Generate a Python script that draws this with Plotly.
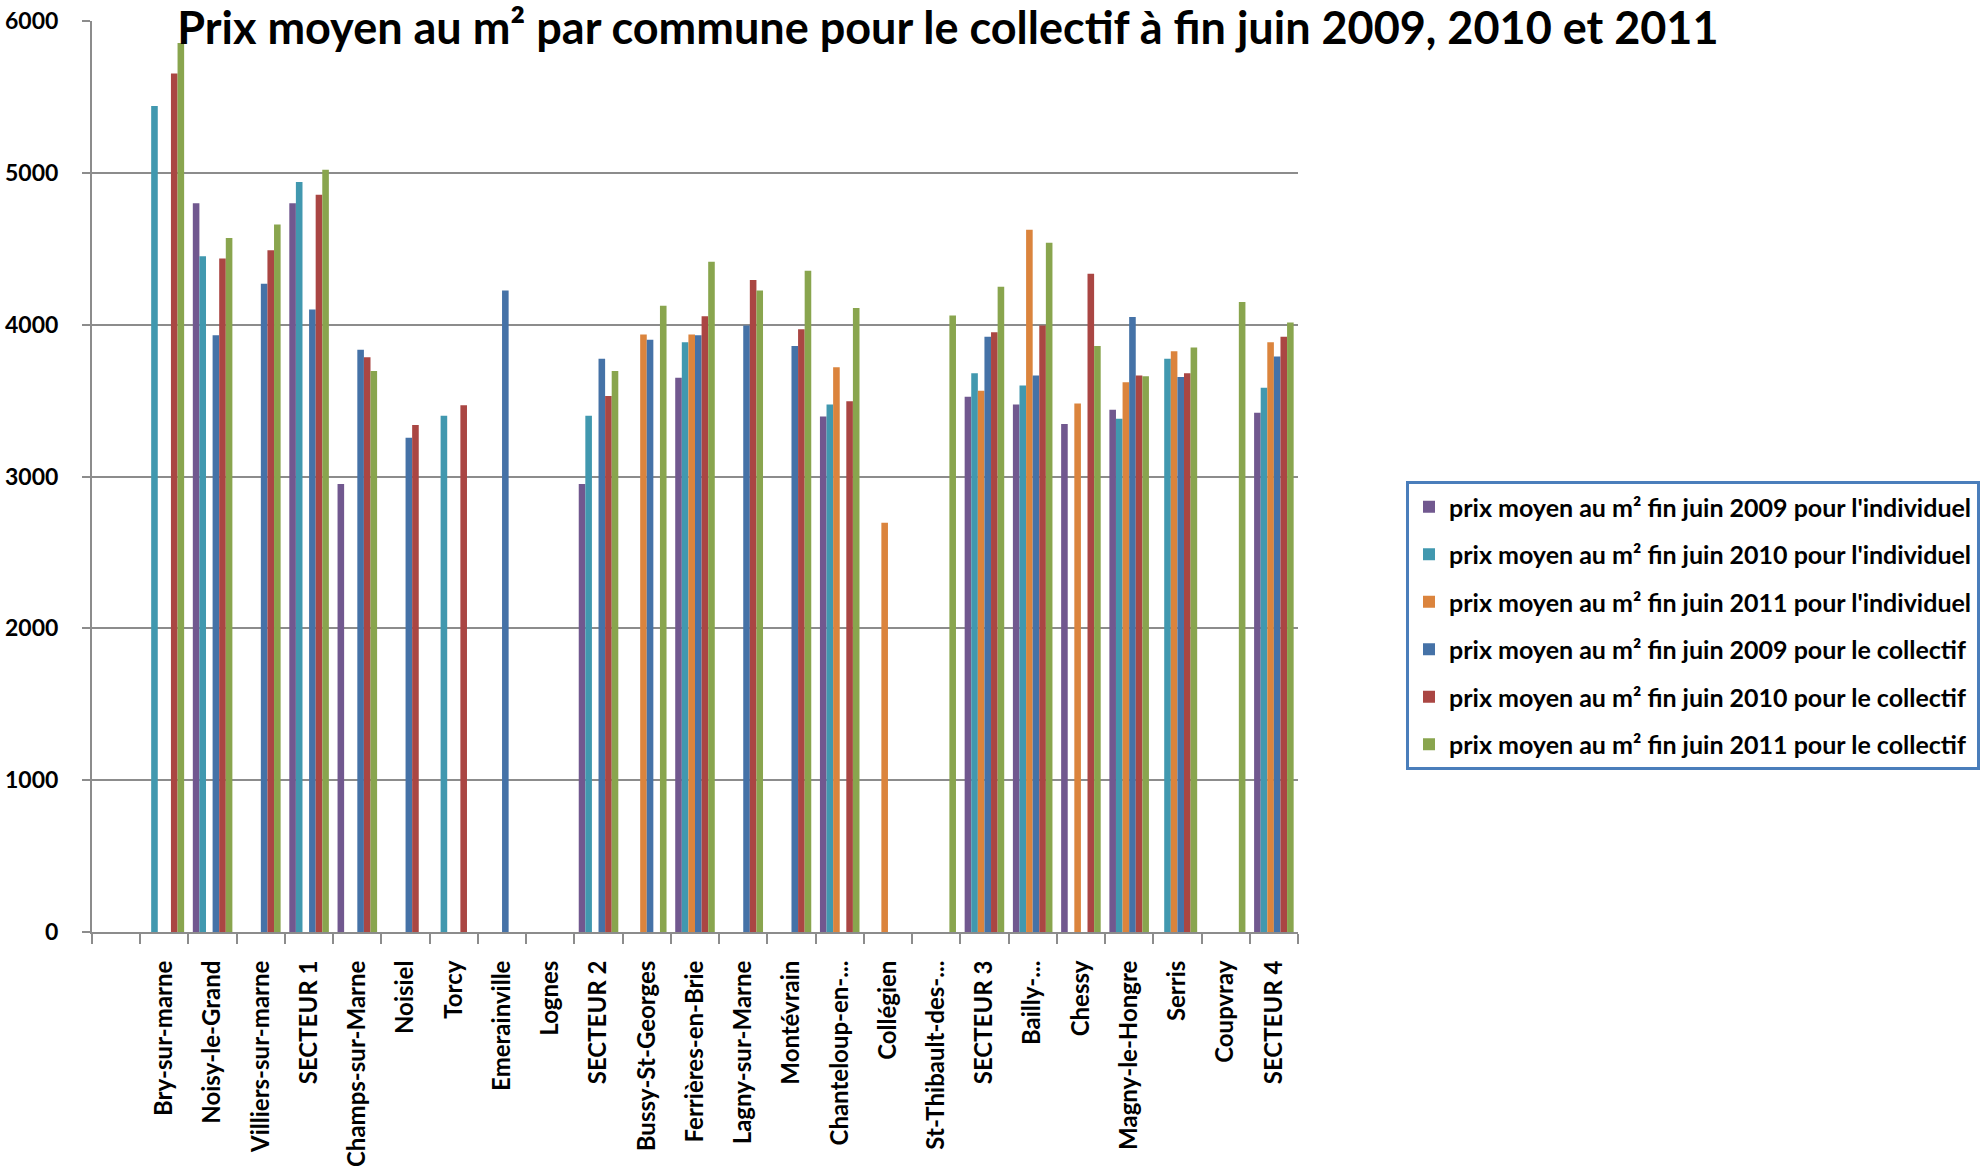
import plotly.graph_objects as go

# Communes (first slot of the axis is left empty)
communes = [
    " ", "Bry-sur-marne", "Noisy-le-Grand", "Villiers-sur-marne", "SECTEUR 1",
    "Champs-sur-Marne", "Noisiel", "Torcy", "Emerainville", "Lognes", "SECTEUR 2",
    "Bussy-St-Georges", "Ferrières-en-Brie", "Lagny-sur-Marne", "Montévrain",
    "Chanteloup-en-...", "Collégien", "St-Thibault-des-...", "SECTEUR 3",
    "Bailly-...", "Chessy", "Magny-le-Hongre", "Serris", "Coupvray", "SECTEUR 4",
]

# Average price per m² (None = no data)
indiv_2009 = [None, None, 4800, None, 4800, 2950, None, None, None, None, 2950,
              None, 3650, None, None, 3395, None, None, 3525, 3475, 3345, 3440,
              None, None, 3420]
indiv_2010 = [None, 5440, 4450, None, 4940, None, None, 3400, None, None, 3400,
              None, 3885, None, None, 3475, None, None, 3680, 3600, None, 3380,
              3775, None, 3585]
indiv_2011 = [None, None, None, None, None, None, None, None, None, None, None,
              3935, 3935, None, None, 3720, 2695, None, 3565, 4625, 3480, 3620,
              3825, None, 3885]
coll_2009 = [None, None, 3930, 4270, 4100, 3835, 3255, None, 4225, None, 3775,
             3900, 3930, 3995, 3860, None, None, None, 3920, 3665, None, 4050,
             3655, None, 3790]
coll_2010 = [None, 5655, 4435, 4490, 4855, 3785, 3340, 3470, None, None, 3530,
             None, 4055, 4295, 3970, 3495, None, None, 3950, 3995, 4335, 3665,
             3680, None, 3920]
coll_2011 = [None, 5855, 4570, 4660, 5020, 3695, None, None, None, None, 3695,
             4125, 4415, 4225, 4355, 4110, None, 4060, 4250, 4540, 3860, 3660,
             3850, 4150, 4015]

series_names = [
    "prix moyen au m² fin juin 2009 pour l'individuel",
    "prix moyen au m² fin juin 2010 pour l'individuel",
    "prix moyen au m² fin juin 2011 pour l'individuel",
    "prix moyen au m² fin juin 2009 pour le collectif",
    "prix moyen au m² fin juin 2010 pour le collectif",
    "prix moyen au m² fin juin 2011 pour le collectif",
]
series_values = [indiv_2009, indiv_2010, indiv_2011, coll_2009, coll_2010, coll_2011]
series_colors = ["#71588F", "#4198AF", "#DB843D", "#4572A7", "#AA4643", "#89A54E"]

FONT = "Lato"
GRID = "#8c8c8c"

fig = go.Figure()
for i, (name, vals, col) in enumerate(zip(series_names, series_values, series_colors)):
    fig.add_trace(go.Bar(
        x=communes, y=vals, name=name, legendgroup=f"g{i}",
        marker=dict(color=col, line=dict(width=0)),
    ))

fig.update_layout(
    width=1981, height=1173,
    margin=dict(l=92, r=683, t=21, b=241, autoexpand=False),
    paper_bgcolor="white", plot_bgcolor="white",
    barmode="group", bargap=0.18, bargroupgap=0,
    font=dict(family=FONT, color="black"),
    title=dict(
        text="Prix moyen au m² par commune pour le collectif à fin juin 2009, 2010 et 2011",
        font=dict(family=FONT, size=45, weight="bold", color="black"),
        xref="container", x=0.4785, xanchor="center",
        yref="container", y=0.976, yanchor="middle",
    ),
    xaxis=dict(
        type="category", categoryorder="array", categoryarray=communes,
        tickson="boundaries", ticks="outside", ticklen=10, tickwidth=2,
        tickcolor=GRID, tickangle=-90, showline=True, linecolor=GRID,
        linewidth=2, showgrid=False, ticklabelstandoff=17,
        tickfont=dict(family=FONT, size=24, weight="bold", color="black"),
    ),
    yaxis=dict(
        range=[0, 6000], dtick=1000, showgrid=True, gridcolor=GRID,
        gridwidth=2, showline=True, linecolor=GRID, linewidth=2,
        ticks="outside", ticklen=8, tickwidth=2, tickcolor=GRID,
        ticklabelstandoff=19, zeroline=False,
        tickfont=dict(family=FONT, size=23, weight="bold", color="black"),
    ),
    legend=dict(
        xref="container", x=1406 / 1981, xanchor="left",
        yref="container", y=1 - 481 / 1173, yanchor="top",
        bgcolor="white", bordercolor="#4a7ebb", borderwidth=3,
        tracegroupgap=12,
        font=dict(family=FONT, size=25, weight="bold", color="black"),
    ),
)

fig.write_html("out.html")
